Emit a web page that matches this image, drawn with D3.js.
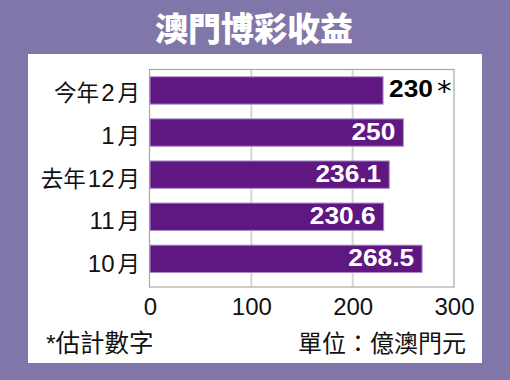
<!DOCTYPE html>
<html><head><meta charset="utf-8">
<script src="https://cdn.jsdelivr.net/npm/d3@7"></script>
<style>
html,body{margin:0;padding:0;background:#8076aa;}
svg{display:block;}
</style></head>
<body>
<svg id="c" width="510" height="380"></svg>
<script>
const title = "澳門博彩收益";
const categories = ["今年2月", "1月", "去年12月", "11月", "10月"];
const catPrefix = ["今年", "", "去年", "", ""];
const catNum = ["2", "1", "12", "11", "10"];
const values = [230, 250, 236.1, 230.6, 268.5];
const valueLabels = ["230", "250", "236.1", "230.6", "268.5"];
const estimated = [true, false, false, false, false];
const xTicks = [0, 100, 200, 300];
const footLeft = "*估計數字";
const footRight = "單位：億澳門元";

const svg = d3.select("#c");
const latin = "'Liberation Sans', Arial, 'Noto Sans CJK TC', sans-serif";

svg.append("rect").attr("width",510).attr("height",380).attr("fill","#8076aa");
svg.append("rect").attr("x",28).attr("y",54).attr("width",454).attr("height",309).attr("fill","#fff");

svg.append("text").attr("x",254).attr("y",41).attr("text-anchor","middle")
  .attr("font-family","'Noto Sans CJK TC', sans-serif").attr("font-weight",900)
  .attr("font-size",33).attr("fill","#fff").text(title);

const x = d3.scaleLinear().domain([0,300]).range([150,454]);
const y = d3.scaleBand().domain(categories).range([69.4,279.9]).paddingInner(0.35).paddingOuter(0.175);
const cy = d => y(d) + y.bandwidth()/2;

const plotTop = 69.5, plotBottom = 287;
// grid
svg.append("g").selectAll("line").data(xTicks.filter(d=>d>0&&d<300)).join("line")
  .attr("x1",d=>x(d)).attr("x2",d=>x(d)).attr("y1",plotTop).attr("y2",plotBottom)
  .attr("stroke","#d6d6d6").attr("stroke-width",2);
svg.append("rect").attr("x",149.5).attr("y",plotTop).attr("width",x(300)-149.5).attr("height",plotBottom-plotTop)
  .attr("fill","none").attr("stroke","#a8a8a8").attr("stroke-width",1.2);

// bars
svg.append("g").selectAll("rect").data(values).join("rect")
  .attr("x",x(0)).attr("y",(d,i)=>y(categories[i]))
  .attr("width",d=>x(d)-x(0)).attr("height",y.bandwidth())
  .attr("fill","#5f1882").attr("stroke","#a98cc6").attr("stroke-width",1);

// value labels (slightly widened bold face)
const vl = svg.append("g").selectAll("g").data(values).join("g")
  .attr("transform",(d,i)=>`translate(${estimated[i] ? x(d)+6 : x(d)-8},${cy(categories[i])+7}) scale(1.12,1)`);
vl.append("text")
  .attr("text-anchor",(d,i)=>estimated[i]?"start":"end")
  .attr("font-family",latin).attr("font-weight","bold").attr("font-size",23.5)
  .attr("fill",(d,i)=>estimated[i]?"#000":"#fff")
  .text((d,i)=>valueLabels[i]);
svg.append("g").selectAll("text").data(values.filter((d,i)=>estimated[i])).join("text")
  .attr("x",d=>x(d)+54).attr("y",d=>cy(categories[values.indexOf(d)])+11)
  .attr("font-family","'DejaVu Sans', sans-serif").attr("font-size",29).attr("fill","#000").text("*");

// category labels
const cl = svg.append("g").selectAll("text").data(categories).join("text")
  .attr("x",140).attr("y",(d,i)=>cy(d)+10.5+i*0.7)
  .attr("text-anchor","end").attr("font-family",latin).attr("fill","#111");
cl.append("tspan").attr("font-size",22.5).text((d,i)=>catPrefix[i]);
cl.append("tspan").attr("font-size",24).attr("dx",(d,i)=>catPrefix[i]?2:0).text((d,i)=>catNum[i]);
cl.append("tspan").attr("font-size",22.5).attr("dx",3).text("月");

// x axis tick labels
const axis = d3.axisBottom(x).tickValues(xTicks).tickSize(0).tickPadding(0).tickFormat(d3.format("d"));
const gx = svg.append("g").attr("transform",`translate(0,${plotBottom})`).call(axis);
gx.select(".domain").remove();
gx.selectAll("text").attr("font-family",latin).attr("font-size",24).attr("fill","#111")
  .attr("dy",null).attr("y",27.5);

svg.append("text").attr("x",46).attr("y",351.5).attr("font-family",latin).attr("font-size",24.5).attr("fill","#111").text(footLeft);
svg.append("text").attr("x",466).attr("y",351.5).attr("text-anchor","end").attr("font-family",latin).attr("font-size",24).attr("fill","#111").text(footRight);
</script>
</body></html>
